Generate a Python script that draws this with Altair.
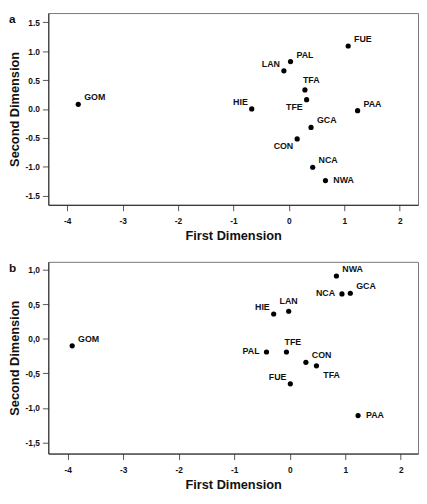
import altair as alt
import pandas as pd

# Panel a data
sites_a = ["GOM", "HIE", "LAN", "PAL", "FUE", "TFA", "TFE", "PAA", "GCA", "CON", "NCA", "NWA"]
dim1_a = [-3.80, -0.67, -0.09, 0.03, 1.07, 0.29, 0.32, 1.24, 0.40, 0.15, 0.43, 0.66]
dim2_a = [0.08, 0.00, 0.66, 0.82, 1.09, 0.33, 0.16, -0.03, -0.32, -0.52, -1.01, -1.24]
pos_a = ["ne", "nw", "nw", "ne", "ne", "nr", "sw", "ne", "ne", "sw", "ne", "e"]

# Panel b data
sites_b = ["GOM", "HIE", "LAN", "PAL", "FUE", "TFA", "TFE", "PAA", "GCA", "CON", "NCA", "NWA"]
dim1_b = [-3.92, -0.29, -0.02, -0.42, 0.01, 0.48, -0.06, 1.23, 1.09, 0.29, 0.94, 0.84]
dim2_b = [-0.10, 0.36, 0.40, -0.19, -0.65, -0.39, -0.19, -1.11, 0.66, -0.34, 0.65, 0.91]
pos_b = ["ne", "nw", "n", "w", "nw", "se", "nr", "e", "ne", "ne", "w", "ne"]

panel_letters = ["a", "b"]
x_ticks = [-4, -3, -2, -1, 0, 1, 2]
y_ticks = [-1.5, -1.0, -0.5, 0.0, 0.5, 1.0, 1.5]

FONT = "Liberation Sans"
# label placement styles: align, dx, dy
OFF = {
    "ne": ("left", 6, -7),
    "nw": ("right", -4, -7),
    "n": ("center", 0, -10),
    "nr": ("left", -2, -10),
    "sw": ("right", -4, 7),
    "se": ("left", 7, 9),
    "e": ("left", 8, -1),
    "w": ("right", -7, -1),
}


def panel(sites, d1, d2, pos, letter, xdom, ydom, comma):
    df = pd.DataFrame({"site": sites, "d1": d1, "d2": d2, "pos": pos})
    if comma:
        yexpr = "replace(replace(format(datum.value, '.1f'), '\u2212', '-'), '.', ',')"
    else:
        yexpr = "replace(format(datum.value, '.1f'), '\u2212', '-')"
    base = alt.Chart(df).encode(
        x=alt.X("d1:Q",
                scale=alt.Scale(domain=xdom, nice=False, zero=False),
                axis=alt.Axis(values=x_ticks, title="First Dimension",
                              labelExpr="replace(format(datum.value, 'd'), '\u2212', '-')",
                              labelPadding=6, titlePadding=5)),
        y=alt.Y("d2:Q",
                scale=alt.Scale(domain=ydom, nice=False, zero=False),
                axis=alt.Axis(values=y_ticks, title="Second Dimension",
                              labelExpr=yexpr, labelPadding=3, titlePadding=3.5)),
    )
    pts = base.mark_circle(size=28, color="black", opacity=1)
    layers = [pts]
    for k, (al, dx, dy) in OFF.items():
        if k in pos:
            layers.append(
                base.transform_filter(alt.datum.pos == k).mark_text(
                    align=al, dx=dx, dy=dy, baseline="middle", font=FONT,
                    fontSize=9, fontWeight="bold", color="#111"
                ).encode(text="site:N")
            )
    tag = alt.Chart(pd.DataFrame({"t": [letter]})).mark_text(
        align="left", baseline="middle", font=FONT, fontSize=12,
        fontWeight="bold", color="#111"
    ).encode(x=alt.value(-40), y=alt.value(6), text="t:N")
    layers.append(tag)
    return alt.layer(*layers).properties(width=376, height=195)


pa = panel(sites_a, dim1_a, dim2_a, pos_a, panel_letters[0], [-4.34, 2.33], [-1.66, 1.66], False)
pb = panel(sites_b, dim1_b, dim2_b, pos_b, panel_letters[1], [-4.35, 2.31], [-1.66, 1.115], True)

chart = alt.vconcat(pa, pb, spacing=18).properties(padding=0).configure_axis(
    grid=False,
    labelFont=FONT, labelFontSize=8.5, labelFontWeight="bold", labelColor="#111",
    titleFont=FONT, titleFontSize=13, titleFontWeight="bold", titleColor="#111",
    tickSize=6, tickColor="#555", domainColor="#222", domainWidth=1,
).configure_view(stroke="#777", strokeWidth=1)

chart.save("out.html", embed_options={"renderer": "svg", "actions": False})
